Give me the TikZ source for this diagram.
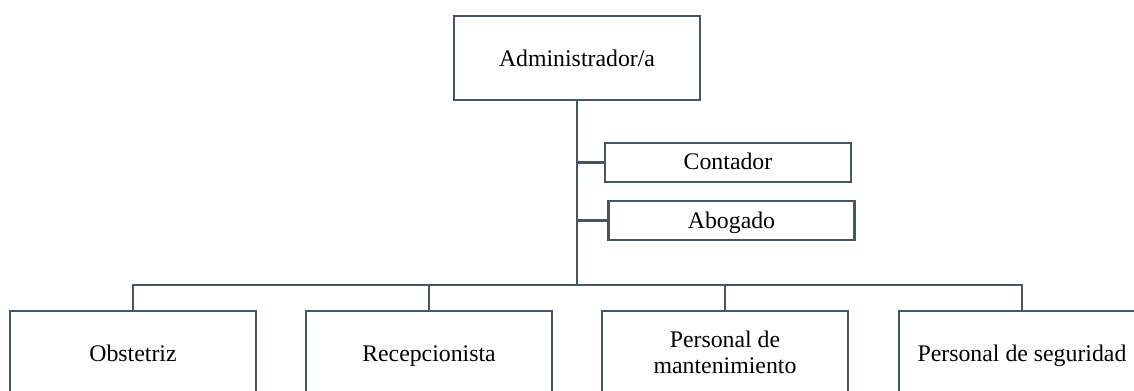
\documentclass[tikz,border=0pt]{standalone}
\usepackage{fontspec}
\setmainfont{Liberation Serif}
\usepackage{tikz}
\usetikzlibrary{positioning,calc}
\definecolor{boxline}{HTML}{44546A}

\begin{document}
\begin{tikzpicture}[
    x=0.75pt, y=-0.75pt,
    box/.style={rectangle, draw=boxline, line width=1.8pt, fill=white, align=center,
        minimum width=184.5pt, inner sep=0pt, text height=13pt, text depth=1pt,
        font=\fontsize{17.85pt}{19.1pt}\selectfont},
    bigbox/.style={box, minimum height=63pt},
    smallbox/.style={box, minimum height=29.25pt},
    link/.style={draw=boxline, line width=1.8pt}
]
    \clip (0,0) rectangle (1134,390);

    \node[bigbox] (admin) at (577,58) {Administrador/a};
    \node[smallbox, text height=12pt, text depth=2pt] (cont) at (728,162.5) {Contador};
    \node[smallbox] (abog) at (731.5,220.5) {Abogado};

    \node[bigbox] (obs)  at (133,353)  {Obstetriz};
    \node[bigbox] (rec)  at (429,353)  {Recepcionista};
    \node[bigbox, text height=31pt, text depth=1pt] (mant) at (725,353) {Personal de\\mantenimiento};
    \node[bigbox] (seg)  at (1022,353) {Personal de seguridad};

    \coordinate (bus) at (577,285);

    \draw[link] (admin.south) -- (bus);
    \draw[link] (cont.west) -- (cont.west -| admin.south);
    \draw[link] (abog.west) -- (abog.west -| admin.south);

    \draw[link] (obs.north) |- (bus) -| (seg.north);
    \draw[link] (rec.north) -- (rec.north |- bus);
    \draw[link] (mant.north) -- (mant.north |- bus);
\end{tikzpicture}
\end{document}
